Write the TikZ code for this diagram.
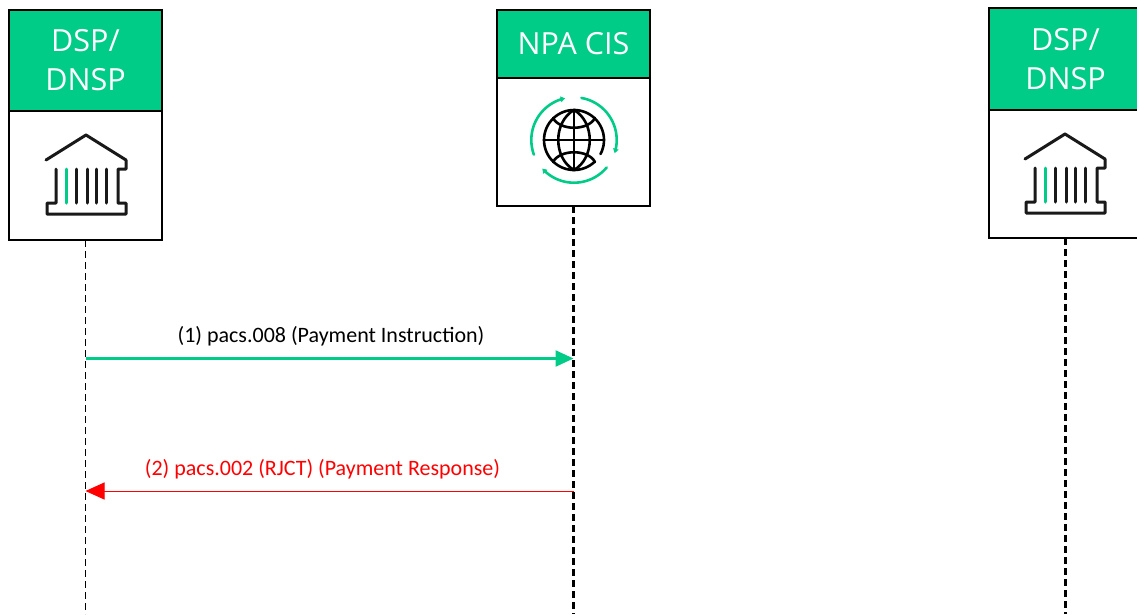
\documentclass[tikz,border=0pt]{standalone}
\usepackage{fontspec}
\setmainfont{Open Sans}
\newfontfamily\labelfont{Carlito}
\usetikzlibrary{arrows.meta}
\definecolor{npagreen}{HTML}{00CC88}
\definecolor{npared}{HTML}{FF0000}
\tikzset{
  x=1pt,y=-1pt,
  headbox/.style={draw=black,line width=2pt,fill=npagreen,text=white,anchor=north west,inner sep=0pt,outer sep=0pt,minimum width=153pt,align=center,font=\fontsize{30.5}{39}\selectfont},
  bodybox/.style={draw=black,line width=2pt,fill=white,anchor=north west,inner sep=0pt,outer sep=0pt,minimum width=153pt},
  lifethin/.style={draw=black,line width=1.1pt,dash pattern=on 7pt off 4pt},
  lifethick/.style={draw=black,line width=2.2pt,dash pattern=on 7pt off 4pt},
  msggreen/.style={draw=npagreen,line width=2.4pt,-{Triangle[length=18pt,width=16pt]}},
  msgred/.style={draw=npared,line width=1pt,-{Triangle[length=19pt,width=17pt]}},
  msglabel/.style={font=\labelfont\fontsize{22}{24}\selectfont,inner sep=0pt},
  iconblack/.style={draw=black!90,line width=3pt,line join=round,line cap=round},
  icongreen/.style={draw=npagreen,line width=3pt,line cap=round},
  arcgreen/.style={draw=npagreen,line width=2.6pt,line cap=round,-{Triangle[length=4.5pt,width=5.5pt]}},
  globe/.style={draw=black,line width=2.6pt,line cap=round},
  bankicon/.pic={
    \draw[iconblack] (46,160) -- (86,135) -- (126,160) -- (126,169) -- (118,169) -- (118,203) -- (126,203) -- (126,214) -- (47,214) -- (47,203) -- (56,203) -- (56,169);
    \draw[icongreen] (66,169) -- (66,203);
    \foreach \cx in {76,87,96,106} \draw[iconblack] (\cx,169) -- (\cx,203);
  }
}
\begin{document}
\begin{tikzpicture}
\useasboundingbox (0,0) rectangle (1137,614);
\clip (0,0) rectangle (1137,614);
\fill[white] (0,0) rectangle (1137,614);

% boxes
\node[bodybox,minimum height=129pt] (leftBody) at (9,111) {};
\node[headbox,minimum height=101pt] (leftHead) at (9,10) {DSP/\\DNSP};
\node[bodybox,minimum height=128pt] (midBody) at (497,78) {};
\node[headbox,minimum height=68pt] (midHead) at (497,10) {NPA CIS};
\node[bodybox,minimum height=128pt] (rightBody) at (989,110) {};
\node[headbox,minimum height=102pt] (rightHead) at (989,8) {DSP/\\DNSP};

% lifeline ends and message anchors
\coordinate (leftEnd) at (leftBody.south |- 0,614);
\coordinate (midEnd) at (midBody.south |- 0,614);
\coordinate (rightEnd) at (rightBody.south |- 0,614);
\coordinate (leftA) at (leftBody.south |- 0,358.5);
\coordinate (midA) at (midBody.south |- 0,358.5);
\coordinate (leftB) at (leftBody.south |- 0,491);
\coordinate (midB) at (midBody.south |- 0,491);

% lifelines
\draw[lifethin] (leftBody.south) -- (leftEnd);
\draw[lifethick] (midBody.south) -- (midEnd);
\draw[lifethick] (rightBody.south) -- (rightEnd);

% icons
\pic at (0,0) {bankicon};
\pic at (979,-1) {bankicon};

% globe, centred on (574,140)
\draw[globe] plot[domain=-28:313,samples=60] ({574+30*cos(\x)},{140-30*sin(\x)});
\draw[globe] (574,110) -- (574,170);
\draw[globe] (544,140) -- (604,140);
\draw[globe] (574,110) .. controls (553,122) and (553,158) .. (574,170);
\draw[globe] (574,110) .. controls (595,122) and (595,158) .. (574,170);
\draw[globe] (553,118) .. controls (560,131) and (588,131) .. (595,118);
\draw[globe] (553,162) .. controls (560,149) and (588,149) .. (595,162);
% green arcs
\draw[arcgreen] plot[domain=200:102,samples=30] ({574+42.7*cos(\x)},{140-42.7*sin(\x)});
\draw[arcgreen] plot[domain=80:-18,samples=30] ({574+42.7*cos(\x)},{140-42.7*sin(\x)});
\draw[arcgreen] plot[domain=-40:-138,samples=30] ({574+42.7*cos(\x)},{140-42.7*sin(\x)});

% messages
\draw[msggreen] (leftA) -- (midA);
\draw[msgred] (midB) -- (leftB);
\node[msglabel,text=black] (lblA) at (331,336) {(1) pacs.008 (Payment Instruction)};
\node[msglabel,text=npared] (lblB) at (322.5,469) {(2) pacs.002 (RJCT) (Payment Response)};
\end{tikzpicture}
\end{document}
